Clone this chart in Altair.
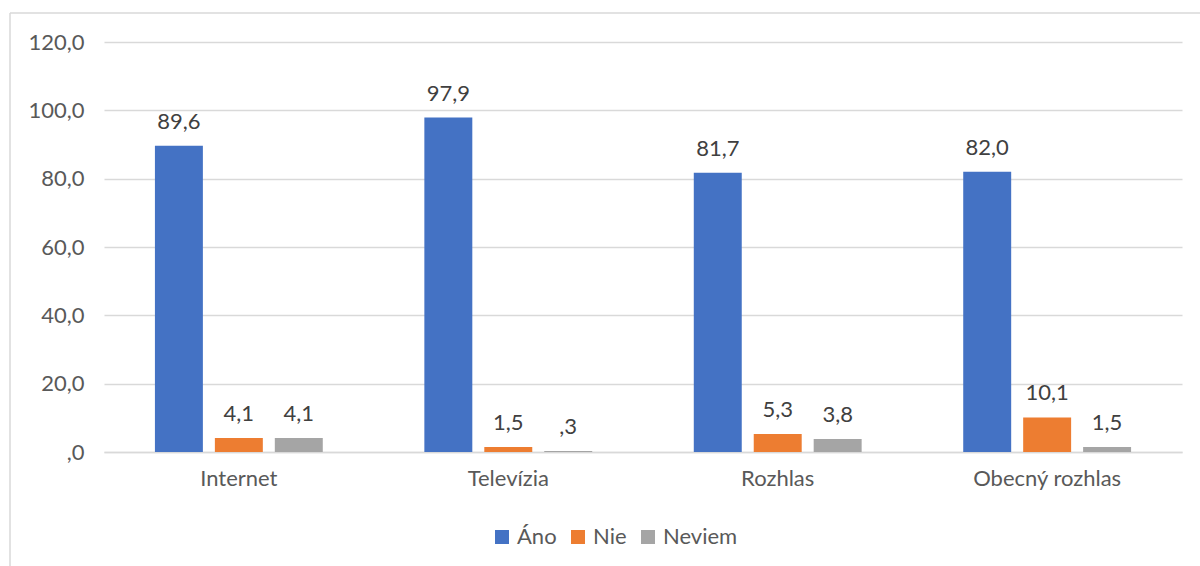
import altair as alt
import pandas as pd

categories = ["Internet", "Televízia", "Rozhlas", "Obecný rozhlas"]
series = ["Áno", "Nie", "Neviem"]
ano = [89.6, 97.9, 81.7, 82.0]
nie = [4.1, 1.5, 5.3, 10.1]
neviem = [4.1, 0.3, 3.8, 1.5]
colors = ["#4472C4", "#ED7D31", "#A5A5A5"]
y_ticks = [0, 20, 40, 60, 80, 100, 120]

rows = []
for s, vals in zip(series, [ano, nie, neviem]):
    for c, v in zip(categories, vals):
        rows.append({"kategoria": c, "odpoved": s, "hodnota": v})
df = pd.DataFrame(rows)

FONT = "Lato"
FS = 22
W, H = 1078, 410
PL, PT = 104, 42

base = alt.Chart(df).transform_calculate(
    lab="replace(replace(format(datum.hodnota, '.1f'), '.', ','), /^0,/, ',')"
).encode(
    x=alt.X("kategoria:N", sort=categories,
            scale=alt.Scale(paddingInner=0.377, paddingOuter=0.189),
            axis=alt.Axis(title=None, labelAngle=0, labelFontSize=FS, labelColor="#595959",
                          labelFont=FONT, labelPadding=16, ticks=False, domain=True,
                          domainColor="#D9D9D9", domainWidth=1.5)),
    xOffset=alt.XOffset("odpoved:N", sort=series,
                        scale=alt.Scale(paddingInner=0.2, paddingOuter=0)),
)

bars = base.mark_bar().encode(
    y=alt.Y("hodnota:Q", scale=alt.Scale(domain=[0, 120], nice=False),
            axis=alt.Axis(title=None, values=y_ticks, labelFontSize=FS, labelColor="#595959",
                          labelFont=FONT, labelPadding=20, ticks=False, domain=False,
                          gridColor="#D9D9D9", gridWidth=1.5,
                          labelExpr="datum.value == 0 ? ',0' : replace(format(datum.value, '.1f'), '.', ',')")),
    color=alt.Color("odpoved:N", sort=series,
                    scale=alt.Scale(domain=series, range=colors),
                    legend=alt.Legend(title=None, orient="none", direction="horizontal",
                                      legendX=387, legendY=484, symbolType="square",
                                      symbolSize=196, symbolStrokeWidth=0, labelFontSize=FS,
                                      labelColor="#595959", labelFont=FONT, columnPadding=10,
                                      labelOffset=4)),
)

text = base.mark_text(baseline="bottom", dy=-12, fontSize=FS, font=FONT, color="#404040").encode(
    y=alt.Y("hodnota:Q"),
    text=alt.Text("lab:N"),
)

border_top = alt.Chart(pd.DataFrame({"a": [0]})).mark_rule(color="#D9D9D9", strokeWidth=1.5).encode(
    x=alt.value(10 - PL), x2=alt.value(1300), y=alt.value(13 - PT))
border_left = alt.Chart(pd.DataFrame({"a": [0]})).mark_rule(color="#D9D9D9", strokeWidth=1.5).encode(
    x=alt.value(10 - PL), y=alt.value(13 - PT), y2=alt.value(700))

chart = alt.layer(border_top, border_left, bars, text).properties(
    width=W, height=H,
    autosize=alt.AutoSizeParams(type="none"),
    padding={"left": PL, "top": PT, "right": 1200 - PL - W, "bottom": 566 - PT - H},
    background="white",
).configure_view(stroke=None)

chart.save("out.html", embed_options={"renderer": "svg", "actions": False})
